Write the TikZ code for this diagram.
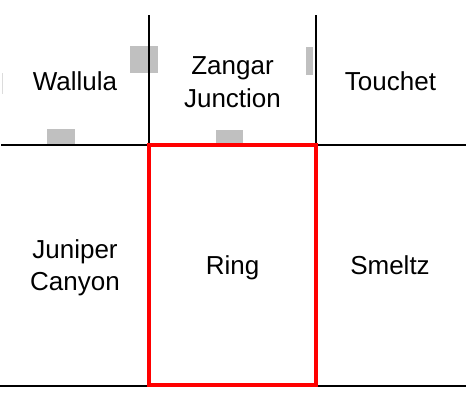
\documentclass[tikz,border=0pt]{standalone}
\usepackage{fontspec}
\setmainfont{Liberation Sans}
\usepackage{tikz}
\usetikzlibrary{positioning}
\definecolor{mapgrey}{HTML}{C0C0C0}
\definecolor{mapred}{HTML}{FF0000}

\begin{document}
\begin{tikzpicture}[x=1pt,y=-1pt,
  cell/.style={align=center,inner sep=0pt,font=\fontsize{26}{32.5}\selectfont},
  gridline/.style={black,line width=2.3pt}]
  \useasboundingbox (0,0) rectangle (466,394);
  % Grey markers
  \fill[mapgrey!55] (1.5,73) rectangle (3.2,94);
  \fill[mapgrey] (130,46) rectangle (158,73);
  \fill[mapgrey] (47,129) rectangle (75,145);
  \fill[mapgrey] (216,130) rectangle (243,145);
  \fill[mapgrey] (306,47) rectangle (313,75);
  % Grid
  \coordinate (ltop) at (149,15);
  \coordinate (rtop) at (316,15);
  \coordinate (lmid) at (149,145);
  \coordinate (rmid) at (316,145);
  \coordinate (west) at (1,145);
  \coordinate (east) at (466,145);
  \coordinate (sw) at (0,386);
  \coordinate (se) at (466,386);
  \draw[gridline] (ltop) -- (lmid) (rtop) -- (rmid);
  \draw[gridline] (west) -- (east);
  \draw[gridline] (sw) -- (se);
  % Labels
  \node[cell] (wallula) at (75,81) {Wallula};
  \node[cell] (zangar) at (232.5,82) {Zangar\\Junction};
  \node[cell] (touchet) at (390.5,81) {Touchet};
  \node[cell] (juniper) at (75,268) {Juniper\\Canyon};
  \node[cell] (ring) at (232.5,268) {Ring};
  \node[cell] (smeltz) at (390,265) {Smeltz};
  % Selected cell
  \draw[mapred,line width=4.5pt] (lmid) rectangle (316,385);
\end{tikzpicture}
\end{document}
